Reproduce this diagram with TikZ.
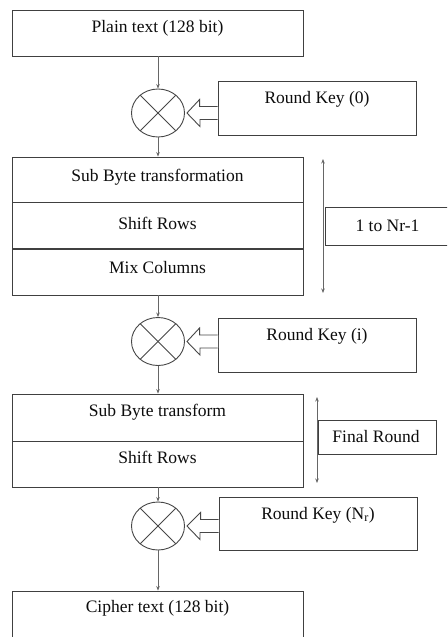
\documentclass[tikz,border=0pt]{standalone}
\usepackage{fontspec}
\setmainfont{Liberation Serif}
\usetikzlibrary{shapes.geometric,arrows.meta,calc}
\newcommand\keyarrow[2]{%
  \fill[white] ([xshift=2pt]#1.east) -- ++(13,-13.5) -- ++(0,7) -- ($(#2.west |- #1.east)+(0.6,-6.5)$) -- ++(0,13) -- ++(-18.6,0) -- ++(0,7) -- cycle;
  \draw[hollow] ($(#2.west |- #1.east)+(0,-6.5)$) -- ++(-18,0) -- ++(0,-7) -- ([xshift=2pt]#1.east) -- ++(13,13.5) -- ++(0,-7) -- ($(#2.west |- #1.east)+(0,6.5)$);
}
\begin{document}
\begin{tikzpicture}[x=1pt,y=-1pt,
  box/.style={draw=black!75, line width=0.9pt, rectangle, inner sep=0pt},
  lbl/.style={font=\fontsize{17.5}{20}\selectfont, text=black!95, inner sep=0pt},
  xor/.style={draw=black!72, line width=0.9pt, ellipse, minimum width=53pt, minimum height=48pt, inner sep=0pt},
  conn/.style={draw=black!60, line width=0.7pt, -{Stealth[length=4.5pt,width=3.5pt]}},
  span/.style={draw=black!60, line width=0.7pt, {Stealth[length=4.5pt,width=3.5pt]}-{Stealth[length=4.5pt,width=3.5pt]}},
  hollow/.style={draw=black!72, line width=0.9pt, line join=miter},
  cross/.style={draw=black!72, line width=0.8pt}
]
\clip (0,0) rectangle (447,637);
\fill[white] (0,0) rectangle (447,637);

% main column boxes
\node[box, minimum width=291pt, minimum height=46pt] (plain) at (157.5,33) {};
\node[box, minimum width=291pt, minimum height=45pt] (sb) at (157.5,179.5) {};
\node[box, minimum width=291pt, minimum height=46pt] (sr) at (157.5,225) {};
\node[box, minimum width=291pt, minimum height=45.5pt] (mc) at (157.5,272.25) {};
\node[box, minimum width=291pt, minimum height=47pt] (fsb) at (157.5,417.5) {};
\node[box, minimum width=291pt, minimum height=46pt] (fsr) at (157.5,464) {};
\node[box, minimum width=291pt, minimum height=69pt] (cipher) at (157.5,625.5) {};

% texts
\node[lbl] (tplain) at (157.5,28) {Plain text (128 bit)};
\node[lbl] (tsb) at (157.5,177) {Sub Byte transformation};
\node[lbl] (tsr) at (157.5,223) {Shift Rows};
\node[lbl] (tmc) at (157.5,268) {Mix Columns};
\node[lbl] (tfsb) at (157.5,412) {Sub Byte transform};
\node[lbl] (tfsr) at (157.5,457) {Shift Rows};
\node[lbl] (tcipher) at (157.5,608) {Cipher text (128 bit)};

% xor circles
\node[xor] (x1) at (158,113) {};
\node[xor] (x2) at (158,341.5) {};
\node[xor] (x3) at (158,526) {};
\foreach \n in {x1,x2,x3}{
  \draw[cross] (\n.45) -- (\n.225);
  \draw[cross] (\n.135) -- (\n.315);
}

% key boxes
\node[box, minimum width=198pt, minimum height=54pt] (k0) at (317,108) {};
\node[box, minimum width=198pt, minimum height=54pt] (ki) at (317,345) {};
\node[box, minimum width=198pt, minimum height=53pt] (kn) at (318,523.5) {};
\node[lbl] (tk0) at (317,99) {Round Key (0)};
\node[lbl] (tki) at (317,336) {Round Key (i)};
\node[lbl] (tkn) at (318,515) {Round Key (N\textsubscript{r})};

\keyarrow{x1}{k0}
\keyarrow{x2}{ki}
\keyarrow{x3}{kn}

% vertical connectors
\draw[conn] (plain.south -| x1.north) -- (x1.north);
\draw[conn] (x1.south) -- (x1.south |- sb.north);
\draw[conn] (mc.south -| x2.north) -- (x2.north);
\draw[conn] (x2.south) -- (x2.south |- fsb.north);
\draw[conn] (fsr.south -| x3.north) -- (x3.north);
\draw[conn] (x3.south) -- (x3.south |- cipher.north);

% round ranges
\coordinate (ra) at (323,159);
\coordinate (rb) at (323,293);
\coordinate (fa) at (317,397);
\coordinate (fb) at (317,483);
\draw[span] (ra) -- (rb);
\draw[span] (fa) -- (fb);
\node[box, minimum width=126pt, minimum height=38pt] (loop) at (388,226) {};
\node[lbl] (tloop) at (387.5,226) {1 to Nr-1};
\node[box, minimum width=118pt, minimum height=34pt] (final) at (377,437) {};
\node[lbl] (tfinal) at (376,437) {Final Round};
\end{tikzpicture}
\end{document}
